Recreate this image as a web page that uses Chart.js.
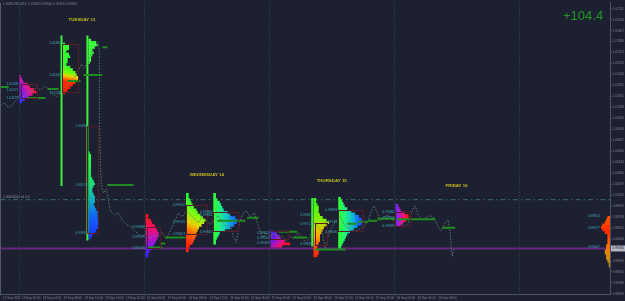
<!DOCTYPE html>
<html>
<head>
<meta charset="utf-8">
<script src="https://cdn.jsdelivr.net/npm/chart.js@4.4.0/dist/chart.umd.min.js"></script>
<style>
  html, body { margin: 0; padding: 0; background: #1d2030; }
  canvas { display: block; }
</style>
</head>
<body>
<canvas id="chart" width="625" height="301"></canvas>
<script>
// x = M15 bar index from 13 Sep 00:00, y = EURUSD price
const X_MIN = -14.6, X_MAX = 453.9
const Y_MIN = 0.98908, Y_MAX = 1.0228
const ROW = 0.0003

// close line
const closeBars = [-14.6,-11.5,-8.4,-5.4,-2.3,0.8,3.8,6.9,10.0,13.1,16.1,19.2,22.3,25.3,28.4,31.5,34.6,39.2,42.2,45.3,47.6,49.9,53.0,56.1,58.4,60.7,61.4,61.4,62.2,63.0,64.5,66.8,68.4,69.9,73.0,76.0,79.1,82.2,85.3,88.3,91.4,94.5,97.5,100.6,103.7,106.8,109.8,112.9,116.0,119.0,122.1,125.2,128.3,131.3,134.4,137.5,140.6,143.6,146.7,149.8,152.8,155.9,159.0,162.1,164.4,166.7,169.0,171.3,174.3,177.4,180.5,182.8,185.1,187.4,189.7,192.8,195.9,198.9,202.0,205.1,208.1,211.2,214.3,217.4,220.4,223.5,226.6,229.6,232.7,235.0,237.3,240.4,243.5,246.5,249.6,252.7,255.8,258.8,261.9,265.0,268.0,271.1,272.7,275.0,277.3,280.3,283.4,286.5,289.6,292.6,295.7,298.8,301.1,304.1,306.5,309.5,312.6,315.7,318.7,321.8,324.1,327.2,329.5,331.0,331.8,332.6,334.1]
const closePrices = [1.01087,1.01122,1.01064,1.01099,1.01156,1.01225,1.01190,1.01271,1.01248,1.01305,1.01271,1.01317,1.01282,1.01225,1.01190,1.01248,1.01294,1.01362,1.01408,1.01500,1.01569,1.01523,1.01615,1.01729,1.01775,1.01821,1.01684,1.01018,1.00445,1.00158,1.00078,1.00124,0.99986,0.99871,0.99825,0.99848,0.99757,0.99711,0.99688,0.99642,0.99596,0.99573,0.99619,0.99550,0.99596,0.99573,0.99619,0.99550,0.99642,0.99734,0.99848,0.99802,0.99871,0.99825,0.99780,0.99734,0.99802,0.99757,0.99711,0.99780,0.99814,0.99734,0.99688,0.99711,0.99573,0.99504,0.99734,0.99825,0.99871,0.99802,0.99848,0.99734,0.99619,0.99562,0.99619,0.99573,0.99619,0.99550,0.99573,0.99527,0.99573,0.99550,0.99619,0.99550,0.99504,0.99573,0.99734,0.99688,0.99619,0.99435,0.99573,0.99688,0.99757,0.99802,0.99711,0.99665,0.99688,0.99642,0.99665,0.99688,0.99757,0.99894,0.99929,0.99848,0.99757,0.99802,0.99825,0.99757,0.99780,0.99734,0.99688,0.99734,0.99848,0.99929,0.99825,0.99757,0.99802,0.99814,0.99791,0.99688,0.99642,0.99734,0.99768,0.99619,0.99458,0.99344,0.99435]

// profile rows (TPO counts per 3-pip row, from top)
const monCounts     = [1,2,3,6,8,11,13,10,7,4,2]
const tue1Counts    = [2,5,5,3,5,6,4,4,3,6,8,10,11,12,12,10,8,6,4,2]
const tue2TopCounts = [2,6,7,5,3,4,3,2,2,1]
const tue2LowCounts = [1,2,2,2,2,2,2,2,2,2,3,4,5,4,3,3,4,5,5,5,4,5,6,7,7,7,8,8,8,8,6,5,3,2]
const tueLateCounts = [2,2,4,5,7,8,9,10,10,9,8,7,6,5,3,2,2]
const wed1Counts    = [2,2,3,4,5,6,8,9,11,13,15,14,12,10,9,8,8,7,6,5,3,2,2]
const wed2Counts    = [2,2,3,5,6,7,8,11,13,17,20,18,16,13,9,5,4,3,2,2]
const wedLateCounts = [2,5,7,8,11,15,9]
const thu1Counts    = [2,2,3,4,4,4,5,7,10,12,10,8,7,6,5,5,5,4,3,3,4,4,3]
const thu2Counts    = [2,3,4,5,7,10,13,16,18,19,18,15,12,9,7,6,5,4,3,2]
const friCounts     = [2,3,4,7,10,10,8,6,4]
const curCounts     = [2,3,4,6,7,6,4,2,2,2,2,3,3,4,4,3,3,2,1,1]

// price labels beside each profile
const monLabels     = [1.01339,1.01271,1.01179]
const tue1Labels    = [1.01810,1.01443,1.01236]
const tue2Labels    = [1.00858,1.00170,0.99619]
const tueLateLabels = [0.99688,0.99573,0.99435]
const wed1Labels    = [0.99940,0.99745,0.99607]
const wed2Labels    = [0.99860,0.99826,0.99630]
const wedLateLabels = [0.99619,0.99550,0.99493]
const thu1Labels    = [0.99825,0.99722,0.99481]
const thu2Labels    = [0.99883,0.99745,0.99630]
const friLabels     = [0.99860,0.99791,0.99699]
const curLabels     = [0.99814,0.99677,0.99447]

// value areas [bar from, bar to, high, low]
const monVA     = [0.8,13.1,1.01339,1.01179]
const tue1VA    = [33,45.3,1.01798,1.01248]
const tue2VA    = [52.2,60,1.00858,0.99619]
const tueLateVA = [98.3,108.3,0.99688,0.99435]
const wed1VA    = [128.3,144.4,0.99940,0.99607]
const wed2VA    = [149,168.2,0.99860,0.99642]
const wedLateVA = [192.8,206.6,0.99642,0.99550]
const thu1VA    = [227.3,236.5,0.99734,0.99481]
const thu2VA    = [245,264.2,0.99883,0.99642]
const friVA     = [288.8,300.3,0.99860,0.99699]

// green poc lines
const segStart = [-14.6,6.1,21.5,36.9,49.2,63.7,67.6,98.3,108.3,112.1,152,175,199,210.4,227.3,252,260.4,268,275,290.3,324.9]
const segEnd   = [-8.4,20,30,46.9,63.7,67.6,87.6,109.8,112.1,127.5,173.6,183.6,213.5,221.2,250.4,259.6,268,275,288.8,319.5,334.9]
const segPrice = [1.01305,1.01179,1.01282,1.01374,1.01443,1.01764,1.00170,0.99447,0.99493,0.99562,0.99757,0.99791,0.99630,0.99562,0.99424,0.99722,0.99745,0.99757,0.99780,0.99775,0.99676]

// first-period columns
const colBars = [32.3,52.2,225]
const colHigh = [1.01901,1.01901,1.00020]
const colLow  = [1.00158,0.99527,0.99458]

const daySeps = [0,96,192,288,384]
const dayLabels = ['TUESDAY 13','WEDNESDAY 14','THURSDAY 15','FRIDAY 16']
const dayLabelBars = [48,144,240,336]
const dayLabelPrices = [1.02085,1.00284,1.00215,1.00158]

const bidPrice = 0.99435
const levelPrice = 1.0000

const xTickBars = [-14.6,0,16,32,48,64,80,96,112,128,144,160,176,192,208,224,240,256,272,288,304,320]
const xTickLabels = ['12 Sep 2022','13 Sep 00:00','13 Sep 04:00','13 Sep 08:00','13 Sep 12:00','13 Sep 16:00','13 Sep 20:00',
  '14 Sep 00:00','14 Sep 04:00','14 Sep 08:00','14 Sep 12:00','14 Sep 16:00','14 Sep 20:00',
  '15 Sep 00:00','15 Sep 04:00','15 Sep 08:00','15 Sep 12:00','15 Sep 16:00','15 Sep 20:00',
  '16 Sep 00:00','16 Sep 04:00','16 Sep 08:00']
const yTicks = [1.02211,1.02084,1.01957,1.01830,1.01703,1.01576,1.01449,1.01322,1.01195,1.01068,1.00941,1.00814,1.00687,1.00560,1.00433,1.00306,1.00179,1.00052,0.99925,0.99798,0.99671,0.99544,0.99417,0.99290,0.99163,0.99036,0.98909]

const profiles = [
  {x0:0, top:1.01443, counts:monCounts, labels:monLabels, va:monVA, dir:[0,0.8,1,0.5],
    stops:[[0,'#3a2cff'],[0.35,'#9a18e0'],[0.65,'#e8188a'],[1,'#ff1414']]},
  {x0:33, top:1.01821, counts:tue1Counts, labels:tue1Labels, va:tue1VA, dir:[0,0.95,0.35,0.45],
    stops:[[0,'#ff1a0a'],[0.4,'#ff2a00'],[0.52,'#ff7a00'],[0.62,'#e8d000'],[0.75,'#70ff10'],[1,'#30ff30']]},
  {x0:53, top:1.01867, counts:tue2TopCounts, labels:[], va:null, dir:[0,0,1,0],
    stops:[[0,'#3cff3c'],[1,'#3cff3c']]},
  {x0:53, top:1.00560, counts:tue2LowCounts, labels:tue2Labels, va:tue2VA, dir:[0,0,0,1],
    stops:[[0,'#2cff40'],[0.35,'#20e070'],[0.55,'#10b0c0'],[0.75,'#1060ff'],[1,'#2030ff']]},
  {x0:97, top:0.99837, counts:tueLateCounts, labels:tueLateLabels, va:tueLateVA, dir:[0,0,0,1],
    stops:[[0,'#ff1010'],[0.3,'#ff1060'],[0.55,'#c010c0'],[0.8,'#6020ff'],[1,'#2828ff']]},
  {x0:128, top:1.00078, counts:wed1Counts, labels:wed1Labels, va:wed1VA, dir:[0,0.9,1,0.2],
    stops:[[0,'#ff1a0a'],[0.3,'#ff6000'],[0.5,'#e8d000'],[0.7,'#80ff10'],[1,'#20ff30']]},
  {x0:149, top:1.00078, counts:wed2Counts, labels:wed2Labels, va:wed2VA, dir:[0,0.5,1,0.5],
    stops:[[0,'#30ff30'],[0.25,'#20f080'],[0.5,'#10c8c8'],[0.75,'#1080ff'],[1,'#2040ff']]},
  {x0:193, top:0.99653, counts:wedLateCounts, labels:wedLateLabels, va:wedLateVA, dir:[0,0,1,1],
    stops:[[0,'#2830ff'],[0.35,'#8018e0'],[0.6,'#e01090'],[0.8,'#ff1030'],[1,'#ff1010']]},
  {x0:226, top:1.00020, counts:thu1Counts, labels:thu1Labels, va:thu1VA, dir:[0,0,0,1],
    stops:[[0,'#30ff20'],[0.35,'#80f000'],[0.5,'#d8d000'],[0.65,'#ffa000'],[0.85,'#ff4010'],[1,'#ff2010']]},
  {x0:245, top:1.00032, counts:thu2Counts, labels:thu2Labels, va:thu2VA, dir:[0,0.5,1,0.5],
    stops:[[0,'#30ff30'],[0.3,'#20f080'],[0.55,'#10c0d0'],[0.8,'#1070ff'],[1,'#2040ff']]},
  {x0:289, top:0.99952, counts:friCounts, labels:friLabels, va:friVA, dir:[0,0.5,1,0.5],
    stops:[[0,'#6028ff'],[0.35,'#c018c0'],[0.65,'#ff1060'],[1,'#ff1010']]},
  {x0:X_MAX, top:0.99814, counts:curCounts, labels:curLabels, va:null, left:true, dir:[0,0,0,1],
    stops:[[0,'#ff5a00'],[0.3,'#ff2a00'],[0.55,'#ff6a00'],[0.75,'#e08a10'],[1,'#b88a10']]}
]

function profileBox(chart, p) {
  const xs = chart.scales.x, ys = chart.scales.y
  const maxC = Math.max(...p.counts)
  const a = p.left ? p.x0 - maxC : p.x0
  const b = p.left ? p.x0 : p.x0 + maxC
  return {
    left: xs.getPixelForValue(a), right: xs.getPixelForValue(b),
    top: ys.getPixelForValue(p.top), bottom: ys.getPixelForValue(p.top - p.counts.length * ROW)
  }
}

function profileFill(chart, p) {
  if (!chart.chartArea) return p.stops[0][1]
  const bx = profileBox(chart, p)
  const w = bx.right - bx.left, h = bx.bottom - bx.top
  const d = p.dir
  const g = chart.ctx.createLinearGradient(bx.left + d[0] * w, bx.top + d[1] * h, bx.left + d[2] * w, bx.top + d[3] * h)
  p.stops.forEach(s => g.addColorStop(s[0], s[1]))
  return g
}

let segData = []
for (let i = 0; i < segStart.length; i++) {
  segData.push({x: segStart[i], y: segPrice[i]}, {x: segEnd[i], y: segPrice[i]}, {x: segEnd[i], y: null})
}
let colData = []
for (let i = 0; i < colBars.length; i++) {
  colData.push({x: colBars[i], y: colHigh[i]}, {x: colBars[i], y: colLow[i]}, {x: colBars[i], y: null})
}
const closeData = closeBars.map((b, i) => ({x: b, y: closePrices[i]}))

const datasets = []
datasets.push({data: segData, borderColor: '#1f8c1f', borderWidth: 2, pointRadius: 0, fill: false})
datasets.push({data: colData, borderColor: '#3cf03c', borderWidth: 2, pointRadius: 0, fill: false})
datasets.push({data: closeData, borderColor: '#62786f', borderWidth: 1, borderDash: [1.5, 1.5], pointRadius: 0, fill: false})
profiles.forEach(p => {
  const data = p.counts.map((c, i) => ({x: p.left ? p.x0 - c : p.x0 + c, y: p.top - i * ROW}))
  data.push({x: p.x0, y: p.top - p.counts.length * ROW})
  datasets.push({
    data: data, indexAxis: 'y', stepped: 'after', borderWidth: 0, pointRadius: 0,
    fill: {value: p.x0},
    backgroundColor: ctx => profileFill(ctx.chart, p)
  })
})
datasets.push({data: [{x: X_MIN, y: bidPrice}, {x: X_MAX, y: bidPrice}], borderColor: '#63297e', borderWidth: 2, pointRadius: 0, fill: false})
datasets.push({data: [{x: X_MIN, y: levelPrice}, {x: X_MAX, y: levelPrice}], borderColor: '#3a6e5c', borderWidth: 1, borderDash: [5, 3, 1.5, 3], pointRadius: 0, fill: false})

const FONT = "'Liberation Sans', Arial, sans-serif"

const overlay = {
  id: 'overlay',
  beforeDatasetsDraw(chart) {
    const ctx = chart.ctx, xs = chart.scales.x, a = chart.chartArea
    ctx.save()
    ctx.strokeStyle = '#2f4d3c'
    ctx.lineWidth = 1
    ctx.setLineDash([1, 2])
    daySeps.forEach(b => {
      const px = Math.round(xs.getPixelForValue(b)) + 0.5
      ctx.beginPath(); ctx.moveTo(px, a.top); ctx.lineTo(px, a.bottom); ctx.stroke()
    })
    ctx.setLineDash([])
    ctx.strokeStyle = '#555a68'
    ctx.beginPath(); ctx.moveTo(0.5, a.top); ctx.lineTo(0.5, a.bottom); ctx.stroke()
    ctx.restore()
  },
  afterDatasetsDraw(chart) {
    const ctx = chart.ctx, xs = chart.scales.x, ys = chart.scales.y
    ctx.save()
    // value area boxes
    ctx.strokeStyle = '#561c28'
    ctx.lineWidth = 1
    profiles.forEach(p => {
      if (!p.va) return
      const x1 = Math.round(xs.getPixelForValue(p.va[0])) + 0.5
      const x2 = Math.round(xs.getPixelForValue(p.va[1])) + 0.5
      const y1 = Math.round(ys.getPixelForValue(p.va[2])) + 0.5
      const y2 = Math.round(ys.getPixelForValue(p.va[3])) + 0.5
      ctx.strokeRect(x1, y1, x2 - x1, y2 - y1)
    })
    // profile price labels
    ctx.font = '3.4px ' + FONT
    ctx.fillStyle = '#3fa9b8'
    ctx.textAlign = 'right'
    ctx.textBaseline = 'middle'
    profiles.forEach(p => {
      const bx = profileBox(chart, p)
      p.labels.forEach(v => ctx.fillText(v.toFixed(5), bx.left - 1, ys.getPixelForValue(v)))
    })
    // day labels
    ctx.font = 'bold 4.4px ' + FONT
    ctx.fillStyle = '#c9bd1f'
    ctx.textAlign = 'center'
    dayLabels.forEach((t, i) => ctx.fillText(t, xs.getPixelForValue(dayLabelBars[i]), ys.getPixelForValue(dayLabelPrices[i])))
    // level note
    ctx.font = '3.2px ' + FONT
    ctx.fillStyle = '#8b90a0'
    ctx.textAlign = 'left'
    ctx.fillText('1.00000000 ml 0.0', 3, ys.getPixelForValue(levelPrice) - 3)
    ctx.restore()
  },
  afterDraw(chart) {
    const ctx = chart.ctx, ys = chart.scales.y
    ctx.save()
    ctx.font = '3.2px ' + FONT
    ctx.fillStyle = '#7f8491'
    ctx.textAlign = 'left'
    ctx.textBaseline = 'middle'
    ctx.fillText('\u25BE EURUSD,M15  0.99432 0.99440 0.99418 0.99435', 3, 4)
    ctx.font = '13px ' + FONT
    ctx.fillStyle = '#1f9a1f'
    ctx.textBaseline = 'alphabetic'
    ctx.fillText('+104.4', 563, 20)
    // bid label on the price axis
    const py = ys.getPixelForValue(bidPrice)
    ctx.fillStyle = '#b4b8c2'
    ctx.fillRect(611, py - 3, 14, 6)
    ctx.fillStyle = '#1d2030'
    ctx.font = '3.2px ' + FONT
    ctx.textBaseline = 'middle'
    ctx.fillText(bidPrice.toFixed(5), 612.5, py)
    ctx.restore()
  }
}

const axisColor = '#4c5163'
new Chart(document.getElementById('chart'), {
  type: 'line',
  data: {datasets: datasets},
  options: {
    responsive: false,
    animation: false,
    events: [],
    layout: {padding: 0},
    plugins: {legend: {display: false}, tooltip: {enabled: false}},
    scales: {
      x: {
        type: 'linear', position: 'bottom', min: X_MIN, max: X_MAX,
        afterFit: s => { s.height = 7 },
        afterBuildTicks: s => { s.ticks = xTickBars.map(v => ({value: v})) },
        ticks: {autoSkip: false, maxRotation: 0, align: 'start', labelOffset: 2.5, padding: 0.5,
          font: {family: FONT, size: 3.1}, color: '#7f8596', callback: (v, i) => xTickLabels[i]},
        grid: {drawOnChartArea: false, tickLength: 1.5, color: axisColor},
        border: {color: axisColor}
      },
      y: {
        type: 'linear', position: 'right', min: Y_MIN, max: Y_MAX,
        afterFit: s => { s.width = 15 },
        afterBuildTicks: s => { s.ticks = yTicks.map(v => ({value: v})) },
        ticks: {autoSkip: false, padding: 1, font: {family: FONT, size: 3}, color: '#80869a',
          callback: v => v.toFixed(5)},
        grid: {drawOnChartArea: false, tickLength: 2, color: axisColor},
        border: {color: axisColor}
      }
    }
  },
  plugins: [overlay]
})
</script>
</body>
</html>
